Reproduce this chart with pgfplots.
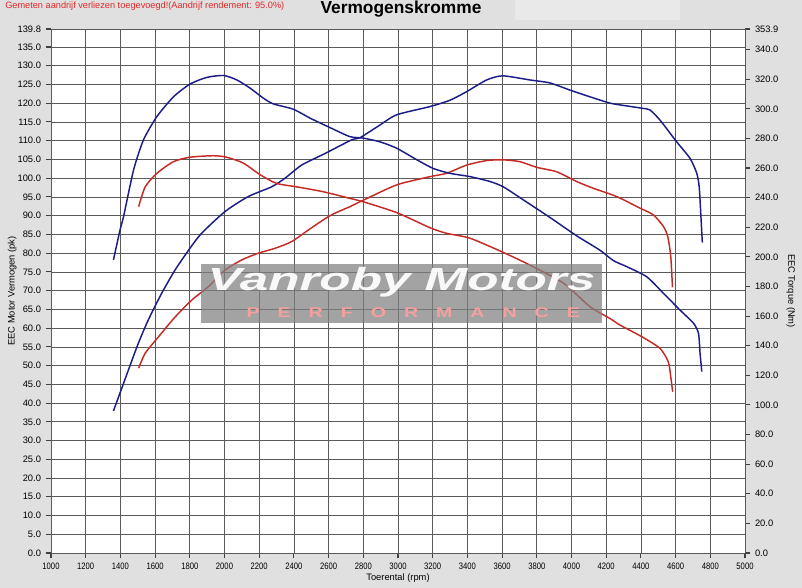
\documentclass[border=0pt]{standalone}
\usepackage{fontspec}
\setmainfont{Liberation Sans}
\newfontfamily\narrowfont{Liberation Sans}[FakeStretch=0.82]
\usepackage{pgfplots}
\usepackage{pgfplotstable}
\pgfplotsset{compat=1.18}

\definecolor{bgGrey}{HTML}{E0E0E0}
\definecolor{boxGrey}{HTML}{E9E9E9}
\definecolor{gridGrey}{HTML}{5A5A5A}
\definecolor{tunedBlue}{HTML}{1C1C86}
\definecolor{stockRed}{HTML}{C62A24}
\definecolor{noteRed}{HTML}{E0282A}
\definecolor{perfPink}{HTML}{F4A0A0}

\newcommand{\wl}[1]{\scalebox{1.4}[1]{#1}}

% vermogen (pk)
\pgfplotstableread{
rpm pk
1360 37.9
1446 48.8
1503 55.9
1561 62.2
1638 69.3
1715 75.5
1801 81.3
1868 85.3
2003 91.1
2137 95.1
2272 97.7
2349 100.0
2445 103.5
2580 106.6
2732 110.2
2781 110.8
2890 114.0
2992 116.9
3184 119.1
3300 120.8
3396 123.1
3511 126.2
3603 127.3
3761 126.2
3876 125.4
3991 123.5
4107 121.7
4224 120.0
4330 119.2
4414 118.6
4452 118.2
4510 115.5
4606 109.7
4683 105.3
4722 101.3
4736 97.7
4745 90.6
4754 82.8
}\powerTuned

\pgfplotstableread{
rpm pk
1505 49.3
1543 53.3
1620 57.7
1716 63.0
1812 67.5
1908 71.1
2004 75.5
2100 78.2
2196 80.0
2292 81.3
2388 83.1
2484 86.2
2608 90.0
2723 92.4
2781 93.7
2992 98.2
3184 100.4
3280 101.3
3396 103.5
3511 104.7
3603 104.9
3703 104.4
3799 102.9
3915 101.7
4030 99.1
4126 97.3
4260 95.1
4395 92.0
4472 90.2
4530 87.1
4555 84.4
4572 79.1
4582 70.9
}\powerStock

% koppel (Nm)
\pgfplotstableread{
rpm nm
1360 198.0
1398 218.2
1418 227.1
1476 258.7
1533 279.0
1610 294.7
1706 308.1
1801 316.7
1898 321.2
1994 322.5
2071 319.5
2148 313.9
2225 307.1
2282 303.3
2397 299.7
2493 293.7
2608 287.3
2723 281.2
2800 280.2
2896 277.7
2992 273.4
3108 265.6
3203 259.7
3300 256.4
3415 254.2
3530 250.9
3607 247.3
3722 238.5
3876 226.6
4030 214.2
4164 204.5
4241 197.5
4318 193.4
4433 186.6
4530 175.4
4626 164.0
4703 155.2
4732 148.3
4741 134.9
4751 122.5
}\torqueTuned

\pgfplotstableread{
rpm nm
1505 233.9
1543 247.3
1610 256.4
1706 264.3
1801 267.3
1936 268.3
2013 267.3
2109 263.3
2206 255.4
2301 249.6
2416 247.3
2569 244.0
2723 239.5
2800 237.2
2992 229.9
3184 219.7
3280 215.9
3415 212.6
3607 203.0
3761 194.4
3953 182.3
4107 166.3
4224 158.2
4280 153.9
4405 146.1
4510 138.2
4558 129.1
4572 119.0
4583 108.9
}\torqueStock

\pgfplotsset{
    dyno/.style={
        at={(0,0)}, anchor=south west,
        scale only axis, width=520.5pt, height=393pt,
        xmin=1000, xmax=5000,
        tick align=outside,
        major tick length=4pt,
        tick style={black!75, line width=0.8pt},
        axis line style={gridGrey, line width=0.5pt},
        tick label style={font=\fontsize{7}{8}\selectfont},
        yticklabel style={/pgf/number format/.cd, fixed, fixed zerofill, precision=1},
        /pgf/number format/assume math mode=true,
        label style={font=\fontsize{7}{8}\selectfont},
    },
    curve/.style={line width=1.1pt, smooth, tension=0.4, no markers},
}

\begin{document}
\begin{tikzpicture}[x=1pt,y=1pt]
\fill[bgGrey] (-38.25,-26.25) rectangle (563.25,414.75);
\useasboundingbox (-38.25,-26.25) rectangle (563.25,414.75);
\fill[boxGrey] (348,399.75) rectangle (471.75,414.75);
\node[anchor=west, text=noteRed, font=\fontsize{6.9}{8}\selectfont, inner sep=0pt] at (-34.5,410.5)
    {Gemeten aandrijf verliezen toegevoegd!(Aandrijf rendement: 95.0\%)};
\node[font=\bfseries\fontsize{13}{15}\selectfont, inner sep=0pt] at (262.5,408)
    {Vermogenskromme};

\begin{axis}[dyno,
    ymin=0, ymax=139.8,
    xtick={1000,1200,...,5000},
    ytick={0,5,...,135,139.8},
    xtick pos=bottom, ytick pos=left,
    xticklabel style={font=\narrowfont\fontsize{7}{8}\selectfont, /pgf/number format/1000 sep={}},
    grid=major,
    major grid style={gridGrey, line width=0.5pt},
    axis background/.style={fill=white},
    xlabel={Toerental (rpm)},
    ylabel={EEC Motor Vermogen (pk)},
    xlabel style={at={(axis description cs:0.5,-0.048)}, anchor=center},
    ylabel style={at={(axis description cs:-0.056,0.5)}, anchor=center, rotate=0},
]
\addplot[curve, tunedBlue] table[x=rpm, y=pk] {\powerTuned};
\addplot[curve, stockRed] table[x=rpm, y=pk] {\powerStock};
\end{axis}

\begin{axis}[dyno,
    ymin=0, ymax=353.9,
    axis x line=none,
    axis y line*=right,
    ytick={0,20,...,340,353.9},
    ytick pos=right,
    ylabel={EEC Torque (Nm)},
    ylabel style={at={(axis description cs:1.066,0.5)}, anchor=center, rotate=180},
]
\addplot[curve, tunedBlue] table[x=rpm, y=nm] {\torqueTuned};
\addplot[curve, stockRed] table[x=rpm, y=nm] {\torqueStock};

% watermerk
\fill[gray, opacity=0.72] (rel axis cs:0.216,0.439) rectangle (rel axis cs:0.794,0.5515);
\node[text=white, opacity=0.94, font=\bfseries\itshape\fontsize{24}{26}\selectfont, inner sep=0pt]
    at (rel axis cs:0.505,0.516) {\scalebox{1.6}[1]{Vanroby Motors}};
\node[text=perfPink, font=\bfseries\fontsize{10.5}{12}\selectfont, inner sep=0pt]
    at (rel axis cs:0.522,0.458)
    {\makebox[250pt][s]{\wl{P}\hfill\wl{E}\hfill\wl{R}\hfill\wl{F}\hfill\wl{O}\hfill\wl{R}\hfill\wl{M}\hfill\wl{A}\hfill\wl{N}\hfill\wl{C}\hfill\wl{E}}};
\end{axis}
\end{tikzpicture}
\end{document}
